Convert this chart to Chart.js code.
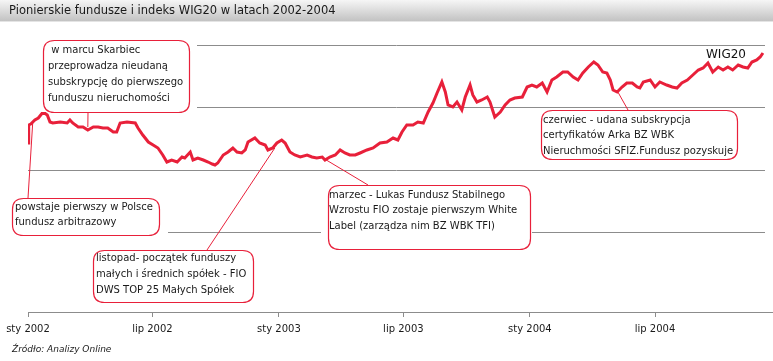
<!DOCTYPE html>
<html>
<head>
<meta charset="utf-8">
<script src="https://cdn.jsdelivr.net/npm/chart.js@4.4.1/dist/chart.umd.min.js"></script>
<style>
  html, body { margin: 0; padding: 0; background: #fff; }
</style>
</head>
<body>
<canvas id="wig" width="773" height="361"></canvas>
<script>
// WIG20, day = days since 1 Jan 2002
let days = [
  0, 1, 4, 10, 15, 22, 28, 32, 36, 47,
  57, 61, 65, 73, 80, 87, 95, 102, 109, 116,
  124, 129, 134, 144, 156, 160, 167, 175, 182, 189,
  196, 202, 209, 217, 224, 228, 236, 240, 247, 255,
  262, 268, 272, 276, 284, 291, 298, 304, 311, 316,
  320, 330, 337, 345, 349, 356, 362, 369, 374, 381,
  388, 396, 406, 413, 420, 428, 432, 439, 447, 454,
  461, 468, 476, 483, 493, 502, 512, 522, 531, 538,
  544, 551, 560, 567, 575, 582, 589, 595, 602, 607,
  611, 618, 624, 631, 636, 643, 647, 653, 660, 668,
  672, 679, 687, 694, 701, 708, 719, 726, 733, 740,
  748, 755, 762, 769, 778, 785, 793, 800, 807, 815,
  823, 829, 836, 842, 847, 851, 857, 864, 871, 879,
  886, 890, 895, 905, 912, 919, 929, 937, 944, 951,
  959, 967, 975, 982, 989, 996, 1004, 1011, 1018, 1025,
  1033, 1040, 1047, 1053, 1060, 1065, 1069
];
let wig20 = [
  1216, 1360, 1368, 1400, 1416, 1464, 1440, 1384, 1376, 1384,
  1376, 1400, 1376, 1344, 1344, 1320, 1344, 1344, 1336, 1336,
  1304, 1304, 1376, 1384, 1376, 1336, 1280, 1224, 1200, 1176,
  1120, 1064, 1080, 1064, 1104, 1096, 1144, 1080, 1096, 1080,
  1064, 1048, 1040, 1056, 1120, 1144, 1176, 1144, 1136, 1160,
  1224, 1256, 1216, 1200, 1160, 1176, 1216, 1240, 1216, 1144,
  1120, 1104, 1120, 1104, 1096, 1104, 1080, 1104, 1120, 1160,
  1136, 1120, 1120, 1136, 1160, 1176, 1216, 1224, 1256, 1240,
  1304, 1360, 1360, 1384, 1376, 1464, 1536, 1616, 1704, 1624,
  1520, 1504, 1544, 1480, 1584, 1680, 1600, 1544, 1560, 1584,
  1544, 1424, 1464, 1520, 1560, 1576, 1584, 1664, 1680, 1664,
  1696, 1624, 1720, 1744, 1784, 1784, 1744, 1720, 1776, 1824,
  1864, 1840, 1784, 1776, 1720, 1640, 1624, 1664, 1696, 1696,
  1664, 1656, 1704, 1720, 1664, 1704, 1680, 1664, 1656, 1696,
  1720, 1760, 1800, 1816, 1856, 1784, 1824, 1800, 1824, 1800,
  1840, 1824, 1816, 1864, 1880, 1904, 1936
];

let tickDays = [0, 181, 365, 546, 730, 912];
let tickLabels = ['sty 2002', 'lip 2002', 'sty 2003', 'lip 2003', 'sty 2004', 'lip 2004'];
let gridValues = [500, 1000, 1500, 2000];

// callouts: where they point on the line, and what they say
let noteDays = [7, 87, 359, 429, 858];
let noteValues = [1392, 1344, 1176, 1096, 1624];
let noteTexts = [
  ['powstaje pierwszy w Polsce', 'fundusz arbitrazowy'],
  [' w marcu Skarbiec', 'przeprowadza nieudaną', 'subskrypcję do pierwszego', 'funduszu nieruchomości'],
  ['listopad- początek funduszy', 'małych i średnich spółek - FIO', 'DWS TOP 25 Małych Spółek'],
  ['marzec - Lukas Fundusz Stabilnego', 'Wzrostu FIO zostaje pierwszym White', 'Label (zarządza nim BZ WBK TFI)'],
  ['czerwiec - udana subskrypcja', 'certyfikatów Arka BZ WBK', 'Nieruchmości SFIZ.Fundusz pozyskuje']
];

// box layout (pixels) for the callouts; ml/mr = white backing left/right of the frame
let noteBoxes = [
  { x: 12, y: 198, w: 147, h: 37, tx: 15, ty: 207, lh: 15, ax: 28, ay: 198, ml: 0, mr: 9 },
  { x: 43, y: 40, w: 146, h: 72, tx: 48, ty: 50, lh: 16, ax: 88, ay: 112, ml: 16, mr: 8 },
  { x: 93, y: 250, w: 160, h: 52, tx: 96, ty: 258, lh: 16, ax: 207, ay: 250, ml: 0, mr: 0 },
  { x: 328, y: 185, w: 202, h: 64, tx: 329, ty: 195, lh: 15.5, ax: 368, ay: 185, ml: 7, mr: 2 },
  { x: 541, y: 110, w: 196, h: 49, tx: 543, ty: 120, lh: 15.5, ax: 628, ay: 110, ml: 0, mr: 0 }
];

const RED = '#e8203a';
const GRID = '#8c8c8c';
const FONT = "'DejaVu Sans', sans-serif";

function roundRect(ctx, x, y, w, h, r) {
  ctx.beginPath();
  ctx.moveTo(x + r, y);
  ctx.lineTo(x + w - r, y);
  ctx.quadraticCurveTo(x + w, y, x + w, y + r);
  ctx.lineTo(x + w, y + h - r);
  ctx.quadraticCurveTo(x + w, y + h, x + w - r, y + h);
  ctx.lineTo(x + r, y + h);
  ctx.quadraticCurveTo(x, y + h, x, y + h - r);
  ctx.lineTo(x, y + r);
  ctx.quadraticCurveTo(x, y, x + r, y);
  ctx.closePath();
}

// title bar, source line, axis extension
const decor = {
  id: 'decor',
  beforeDraw(chart) {
    const ctx = chart.ctx;
    ctx.save();
    let g = ctx.createLinearGradient(0, 0, 0, 21);
    g.addColorStop(0, '#f6f6f6');
    g.addColorStop(1, '#c2c2c2');
    ctx.fillStyle = g;
    ctx.fillRect(0, 0, chart.width, 21);
    ctx.fillStyle = '#e4e4e4';
    ctx.fillRect(0, 21, chart.width, 1);
    ctx.fillStyle = '#1a1a1a';
    ctx.font = '11.5px ' + FONT;
    ctx.textBaseline = 'middle';
    ctx.fillText('Pionierskie fundusze i indeks WIG20 w latach 2002-2004', 9, 11.5);
    ctx.font = 'italic 9px ' + FONT;
    ctx.fillText('Źródło: Analizy Online', 12, 350);
    ctx.restore();
  },
  afterDraw(chart) {
    const ctx = chart.ctx, a = chart.chartArea;
    ctx.save();
    ctx.strokeStyle = GRID;
    ctx.lineWidth = 1;
    ctx.beginPath();
    ctx.moveTo(a.right, Math.round(a.bottom) + 0.5);
    ctx.lineTo(chart.width, Math.round(a.bottom) + 0.5);
    ctx.stroke();
    ctx.restore();
  }
};

const notes = {
  id: 'notes',
  afterDatasetsDraw(chart) {
    const ctx = chart.ctx, xs = chart.scales.x, ys = chart.scales.y;
    ctx.save();
    noteTexts.forEach((lines, i) => {
      let b = noteBoxes[i];
      ctx.fillStyle = '#fff';
      ctx.fillRect(b.x - b.ml, b.y, b.w + b.ml + b.mr, b.h);
      // pointer to the line
      ctx.strokeStyle = RED;
      ctx.lineWidth = 1;
      ctx.beginPath();
      ctx.moveTo(xs.getPixelForValue(noteDays[i]), ys.getPixelForValue(noteValues[i]));
      ctx.lineTo(b.ax, b.ay);
      ctx.stroke();
      roundRect(ctx, b.x + 0.5, b.y + 0.5, b.w, b.h, 11);
      ctx.fillStyle = '#fff';
      ctx.fill();
      ctx.lineWidth = 1.2;
      ctx.stroke();
      ctx.fillStyle = '#1a1a1a';
      ctx.font = '10px ' + FONT;
      ctx.textBaseline = 'middle';
      lines.forEach((t, j) => ctx.fillText(t, b.tx, b.ty + j * b.lh));
    });
    // series name
    ctx.fillStyle = '#111';
    ctx.font = '12px ' + FONT;
    ctx.textBaseline = 'middle';
    ctx.fillText(chart.data.datasets[0].label, 706, 55);
    ctx.restore();
  }
};

new Chart(document.getElementById('wig'), {
  type: 'line',
  data: {
    datasets: [{
      label: 'WIG20',
      data: days.map((d, i) => ({ x: d, y: wig20[i] })),
      borderColor: RED,
      borderWidth: 3,
      pointRadius: 0,
      tension: 0,
      fill: false
    }]
  },
  options: {
    responsive: false,
    animation: false,
    devicePixelRatio: 1,
    layout: { padding: { top: 30, right: 8, left: 0, bottom: 0 } },
    plugins: {
      legend: { display: false },
      tooltip: { enabled: false }
    },
    scales: {
      x: {
        type: 'linear',
        bounds: 'data',
        min: 0,
        max: 1072,
        afterBuildTicks: axis => { axis.ticks = tickDays.map(v => ({ value: v })); },
        afterFit: axis => { axis.height = 49; },
        ticks: {
          autoSkip: false,
          maxRotation: 0,
          padding: 6,
          color: '#1a1a1a',
          font: { family: FONT, size: 10 },
          callback: v => tickLabels[tickDays.indexOf(v)]
        },
        grid: { drawOnChartArea: false, drawTicks: true, tickLength: 5, color: GRID },
        border: { display: true, color: GRID, width: 1 }
      },
      y: {
        min: -136,
        max: 2120,
        afterBuildTicks: axis => { axis.ticks = gridValues.map(v => ({ value: v })); },
        afterFit: axis => { axis.width = 28; },
        ticks: { display: false },
        grid: { color: GRID, lineWidth: 1, drawTicks: false },
        border: { display: false }
      }
    }
  },
  plugins: [decor, notes]
});
</script>
</body>
</html>
